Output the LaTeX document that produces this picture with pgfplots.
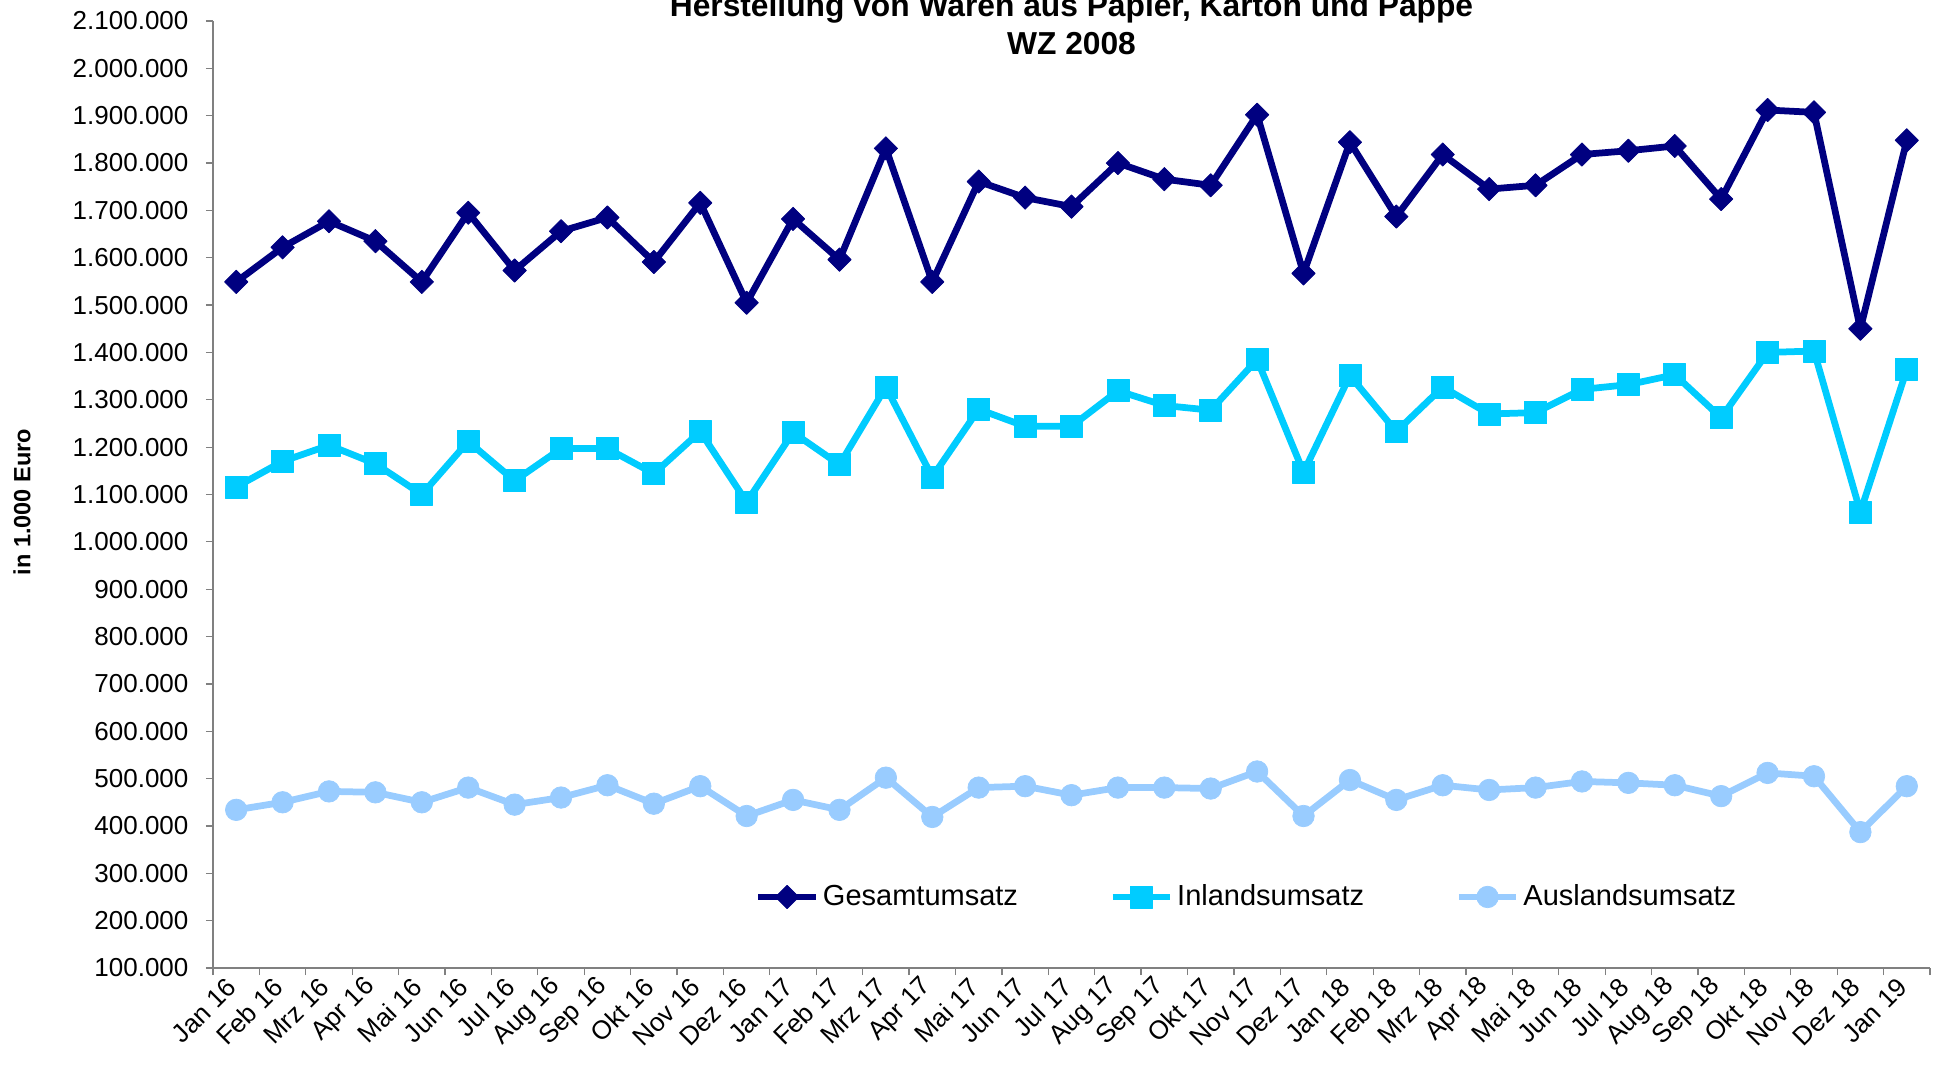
\documentclass[border=0pt]{standalone}
\usepackage{pgfplots}
\usepackage{pgfplotstable}
\pgfplotsset{compat=1.18}
\usepackage{fontspec}
\setmainfont{Liberation Sans}
\definecolor{navyc}{RGB}{0,0,128}
\definecolor{cyanc}{RGB}{0,204,255}
\definecolor{lightc}{RGB}{153,204,255}
\definecolor{axisgray}{RGB}{128,128,128}

\pgfplotstableread{
x g i a
0 1549000 1116000 434000
1 1622000 1170000 450000
2 1677000 1204000 473000
3 1635000 1165000 471000
4 1549000 1100000 450000
5 1695000 1212000 481000
6 1573000 1129000 445000
7 1656000 1197000 460000
8 1685000 1197000 486000
9 1591000 1144000 447000
10 1716000 1233000 484000
11 1505000 1084000 421000
12 1682000 1231000 455000
13 1596000 1163000 434000
14 1831000 1327000 502000
15 1549000 1137000 419000
16 1761000 1280000 481000
17 1727000 1244000 484000
18 1708000 1244000 465000
19 1800000 1319000 481000
20 1766000 1288000 481000
21 1753000 1278000 479000
22 1902000 1385000 515000
23 1567000 1147000 421000
24 1844000 1351000 497000
25 1687000 1233000 455000
26 1818000 1327000 486000
27 1745000 1270000 476000
28 1753000 1273000 481000
29 1818000 1322000 494000
30 1826000 1332000 491000
31 1836000 1353000 486000
32 1724000 1262000 463000
33 1912000 1400000 512000
34 1907000 1403000 505000
35 1450000 1063000 387000
36 1848000 1364000 484000
}\datatable

\begin{document}
\begin{tikzpicture}
\begin{axis}[
  name=ax,
  scale only axis,
  width=686.8pt, height=378.8pt,
  xmin=-0.5, xmax=36.5,
  ymin=100000, ymax=2100000,
  ytick distance=100000,
  scaled y ticks=false,
  /pgf/number format/.cd, fixed, 1000 sep={.}, assume math mode=true,
  /pgfplots/.cd,
  xtick={0,...,36},
  xticklabels={Jan 16,Feb 16,Mrz 16,Apr 16,Mai 16,Jun 16,Jul 16,Aug 16,Sep 16,Okt 16,Nov 16,Dez 16,
               Jan 17,Feb 17,Mrz 17,Apr 17,Mai 17,Jun 17,Jul 17,Aug 17,Sep 17,Okt 17,Nov 17,Dez 17,
               Jan 18,Feb 18,Mrz 18,Apr 18,Mai 18,Jun 18,Jul 18,Aug 18,Sep 18,Okt 18,Nov 18,Dez 18,Jan 19},
  minor xtick={-0.5,0.5,1.5,2.5,3.5,4.5,5.5,6.5,7.5,8.5,9.5,10.5,11.5,12.5,13.5,14.5,15.5,16.5,17.5,18.5,19.5,20.5,21.5,22.5,23.5,24.5,25.5,26.5,27.5,28.5,29.5,30.5,31.5,32.5,33.5,34.5,35.5,36.5},
  major x tick style={draw=none},
  tick align=outside,
  major tick length=2.8pt, minor tick length=2.8pt,
  axis x line*=bottom, axis y line*=left,
  axis line style={axisgray, line width=0.5pt},
  every tick/.style={axisgray, line width=0.5pt},
  tick label style={font=\fontsize{10.4}{12}\selectfont},
  yticklabel style={xshift=-3.5pt},
  xticklabel style={rotate=45, anchor=east, yshift=-1pt},
  ylabel={\bfseries in 1.000 Euro},
  ylabel style={font=\fontsize{9.4}{11}\selectfont, at={(axis description cs:-0.1112,0.492)}, anchor=center},
  legend style={at={(0.6025,0.075)}, anchor=center, draw=none, fill=none,
    font=\fontsize{11.6}{14}\selectfont,
    nodes={inner xsep=1.5pt},
    /tikz/every even column/.append style={column sep=35pt}},
  legend columns=3,
  legend image code/.code={\draw[mark repeat=2,mark phase=2,#1] plot coordinates {(0pt,0pt) (11.5pt,0pt) (23pt,0pt)};},
]
\addplot[navyc, line width=2.7pt, line join=round, mark=square*, mark size=3.3pt,
  mark options={rotate=45, solid, line width=0.3pt, fill=navyc}] table[x=x, y=g] {\datatable};
\addlegendentry{Gesamtumsatz}
\addplot[cyanc, line width=2.7pt, line join=round, mark=square*, mark size=4.4pt,
  mark options={solid, line width=0.3pt, fill=cyanc}] table[x=x, y=i] {\datatable};
\addlegendentry{Inlandsumsatz}
\addplot[lightc, line width=2.7pt, line join=round, mark=*, mark size=4.3pt,
  mark options={solid, line width=0.3pt, fill=lightc}] table[x=x, y=a] {\datatable};
\addlegendentry{Auslandsumsatz}
\end{axis}
\node[anchor=base, font=\fontsize{12.7}{15}\selectfont\bfseries] at ([yshift=1.6pt]ax.north) {Herstellung von Waren aus Papier, Karton und Pappe};
\node[anchor=base, font=\fontsize{12.7}{15}\selectfont\bfseries] at ([yshift=-13.6pt]ax.north) {WZ 2008};
\pgfresetboundingbox
\path ([shift={(-85.2pt,-38.8pt)}]ax.south west) rectangle ([shift={(4pt,8.4pt)}]ax.north east);
\end{tikzpicture}
\end{document}
